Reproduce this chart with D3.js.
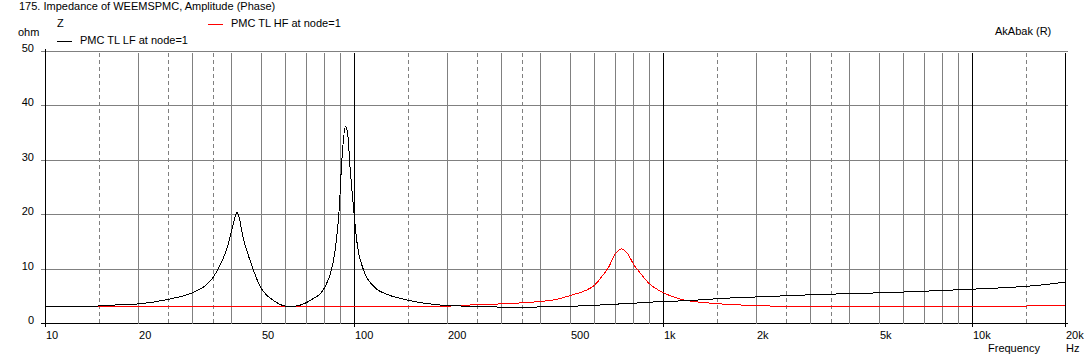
<!DOCTYPE html>
<html>
<head>
<meta charset="utf-8">
<script src="https://cdn.jsdelivr.net/npm/d3@7"></script>
<style>
  body { margin: 0; background: #fff; }
  text { font-family: "Liberation Sans", Arial, sans-serif; font-size: 11px; fill: #000; }
</style>
</head>
<body>
<svg id="chart" width="1092" height="361"></svg>
<script>
// impedance, LF branch (black)
const lfFreq = [10, 14, 16, 20, 25, 30, 33, 35, 37.4, 39, 40.3, 41.7, 43.8, 46.7, 49.7, 52, 55.5, 58, 61.3,
  66.9, 72.9, 78.5, 81, 83.6, 86.6, 89.2, 91, 93.5, 95, 96.9, 99.4, 102, 107, 115.5, 127.5, 141, 151, 170,
  189, 225, 329, 492, 600, 810, 928, 1080, 1320, 1530, 2040, 3230, 5520, 9930, 15800, 20000];
const lfOhm = [3.1, 3.15, 3.35, 3.6, 4.45, 5.7, 7.0, 8.6, 11.7, 14.5, 17.8, 20.4, 15.3, 10.4, 6.6, 5.2, 4.0, 3.4, 3.1,
  3.4, 4.45, 5.85, 7.2, 9.2, 13.5, 20.9, 30, 36.2, 35, 28.2, 20.9, 14.7, 9.8, 6.8, 5.35, 4.6, 4.2, 3.7,
  3.4, 3.2, 3.0, 3.15, 3.35, 3.75, 3.95, 4.1, 4.35, 4.6, 4.9, 5.35, 5.7, 6.3, 6.95, 7.6];

// impedance, HF branch (red)
const hfFreq = [10, 190, 225, 297, 380, 452, 506, 564, 600, 625, 665, 700, 732, 764, 803, 843, 897, 1000,
  1130, 1450, 1780, 2680, 14000, 20000];
const hfOhm = [3.1, 3.15, 3.35, 3.6, 3.95, 4.45, 5.25, 6.15, 7.1, 8.3, 10.4, 12.9, 13.7, 12.9, 10.75, 9.2, 7.4, 5.65,
  4.5, 3.7, 3.4, 3.15, 3.2, 3.3];

const xTickLabels = [10, 20, 50, 100, 200, 500, 1000, 2000, 5000, 10000, 20000];
const yTicks = [0, 10, 20, 30, 40, 50];

const svg = d3.select("#chart");
const x = d3.scaleLog().domain([10, 20000]).range([45.5, 1065.5]);
const y = d3.scaleLinear().domain([0, 50]).range([323.5, 51.5]);
const yTop = y(50), yBot = y(0);

svg.append("rect").attr("width", 1092).attr("height", 361).attr("fill", "#fff");

// vertical grid: 1..9 per decade plus dashed 1.5, 2.5, 3.5
const grid = svg.append("g").attr("shape-rendering", "crispEdges");
const mults = [1, 1.5, 2, 2.5, 3, 3.5, 4, 5, 6, 7, 8, 9];
let vlines = [];
[10, 100, 1000, 10000].forEach(d => mults.forEach(m => {
  const f = d * m;
  if (f <= 20000) vlines.push({ f: f, dash: (m % 1) !== 0, major: m === 1 });
}));
vlines.push({ f: 20000, dash: false, major: true });

// horizontal grid
grid.selectAll(".hg").data(yTicks).join("line")
  .attr("x1", 41).attr("x2", 1068)
  .attr("y1", d => y(d)).attr("y2", d => y(d))
  .attr("stroke", d => d === 0 ? "#000" : "#808080");

grid.selectAll(".vg").data(vlines.filter(v => !v.major)).join("line")
  .attr("x1", d => x(d.f)).attr("x2", d => x(d.f))
  .attr("y1", yTop + 1).attr("y2", yBot)
  .attr("stroke", "#808080")
  .attr("stroke-dasharray", d => d.dash ? "4,3" : null);

grid.selectAll(".vm").data(vlines.filter(v => v.major)).join("line")
  .attr("x1", d => x(d.f)).attr("x2", d => x(d.f))
  .attr("y1", d => d.f === 10 ? yTop - 3 : yTop + 1).attr("y2", yBot + 3)
  .attr("stroke", "#000");

// curves
const line = d3.line().x(d => x(d[0])).y(d => y(d[1])).curve(d3.curveMonotoneX);
svg.append("path").datum(d3.zip(hfFreq, hfOhm)).attr("d", line)
  .attr("fill", "none").attr("stroke", "#f00").attr("stroke-width", 1).attr("shape-rendering", "crispEdges");
svg.append("path").datum(d3.zip(lfFreq, lfOhm)).attr("d", line)
  .attr("fill", "none").attr("stroke", "#000").attr("stroke-width", 1).attr("shape-rendering", "crispEdges");

// axis labels
svg.selectAll(".yl").data(yTicks).join("text")
  .attr("x", 34).attr("y", d => y(d) + 0.5).attr("text-anchor", "end").text(d => d);

const fmt = f => f >= 1000 ? (f / 1000) + "k" : String(f);
svg.selectAll(".xl").data(xTickLabels).join("text")
  .attr("x", d => x(d) + 0.5).attr("y", 339).text(fmt);

svg.append("text").attr("x", 988).attr("y", 352).text("Frequency");
svg.append("text").attr("x", 1066).attr("y", 352).text("Hz");
svg.append("text").attr("x", 18).attr("y", 36).text("ohm");
svg.append("text").attr("x", 57).attr("y", 27).text("Z");
svg.append("text").attr("x", 19).attr("y", 10).text("175. Impedance of WEEMSPMC, Amplitude (Phase)");
svg.append("text").attr("x", 995).attr("y", 35).text("AkAbak (R)");

// legend
const legend = [
  { name: "PMC TL HF at node=1", color: "#f00", x: 208, y: 24 },
  { name: "PMC TL LF at node=1", color: "#000", x: 57, y: 41 }
];
legend.forEach(l => {
  svg.append("line").attr("x1", l.x).attr("x2", l.x + 15).attr("y1", l.y + 0.5).attr("y2", l.y + 0.5)
    .attr("stroke", l.color).attr("shape-rendering", "crispEdges");
  svg.append("text").attr("x", l.x + 23).attr("y", l.y + 3).text(l.name);
});
</script>
</body>
</html>
